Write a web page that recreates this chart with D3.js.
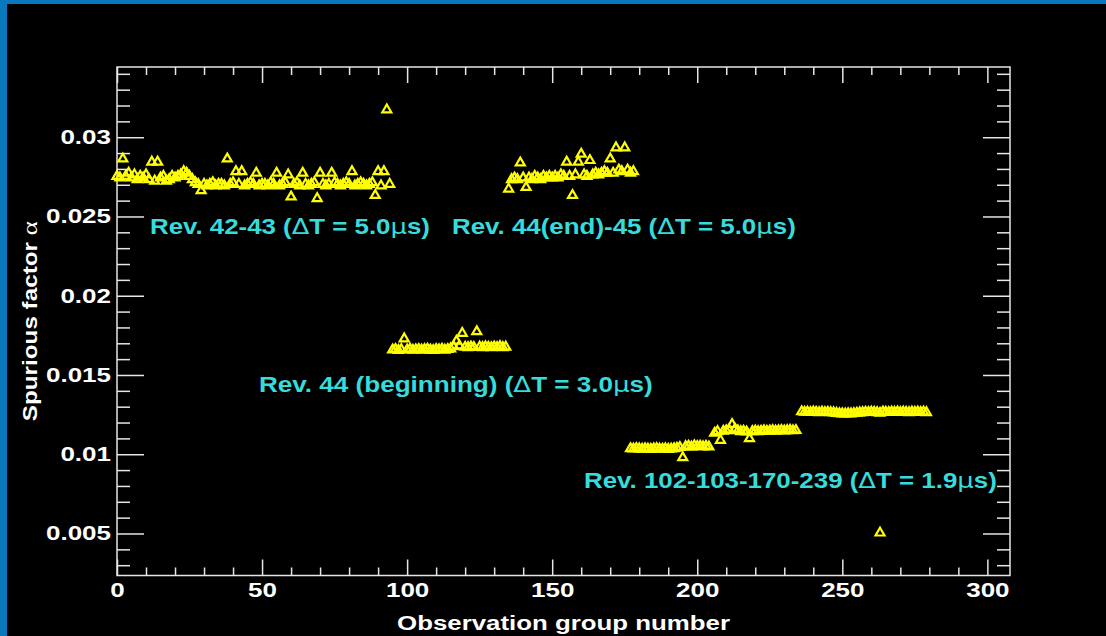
<!DOCTYPE html>
<html>
<head>
<meta charset="utf-8">
<script src="https://cdn.jsdelivr.net/npm/d3@7"></script>
<style>
  html, body { margin: 0; padding: 0; background: #000; }
  svg { display: block; }
  text { font-family: "Liberation Sans", Arial, Helvetica, sans-serif; font-weight: bold; }
</style>
</head>
<body>
<svg id="chart" width="1106" height="636"></svg>
<script>
// observation group where each run of points starts, one alpha per consecutive group
var segmentStart = [0, 95, 135, 177, 206, 236];

var rev4243 = [
  0.0276, 0.0275, 0.0287, 0.0276, 0.0278, 0.0275, 0.0277, 0.0274, 0.0276, 0.0275,
  0.0277, 0.0274, 0.0285, 0.0273, 0.0285, 0.0275, 0.0276, 0.0273, 0.0274, 0.0276,
  0.0275, 0.0276, 0.0277, 0.0279, 0.0278, 0.0276, 0.0274, 0.0272, 0.0271, 0.0267,
  0.0271, 0.0270, 0.0271, 0.0272, 0.0270, 0.0271, 0.0271, 0.0270, 0.0287, 0.0271,
  0.0272, 0.0279, 0.0271, 0.0279, 0.0270, 0.0271, 0.0272, 0.0271, 0.0278, 0.0270,
  0.0271, 0.0271, 0.0270, 0.0272, 0.0271, 0.0278, 0.0270, 0.0271, 0.0272, 0.0277,
  0.0263, 0.0271, 0.0272, 0.0270, 0.0278, 0.0271, 0.0270, 0.0271, 0.0272, 0.0262,
  0.0278, 0.0271, 0.0270, 0.0271, 0.0278, 0.0272, 0.0271, 0.0270, 0.0271, 0.0272,
  0.0271, 0.0279, 0.0270, 0.0271, 0.0272, 0.0271, 0.0270, 0.0271, 0.0272, 0.0264,
  0.0279, 0.0270, 0.0279, 0.0318, 0.0271
];

var rev44begin = [
  0.01665, 0.01668, 0.01662, 0.01667, 0.01735, 0.01665, 0.01670, 0.01663, 0.01666, 0.01668,
  0.01664, 0.01667, 0.01670, 0.01665, 0.01662, 0.01668, 0.01666, 0.01670, 0.01664, 0.01668,
  0.01672, 0.01685, 0.01720, 0.01690, 0.01770, 0.01682, 0.01680, 0.01684, 0.01681, 0.01780,
  0.01683, 0.01680, 0.01685, 0.01682, 0.01679, 0.01684, 0.01681, 0.01686, 0.01680, 0.01683
];

var rev44end45 = [
  0.0268, 0.0274, 0.0275, 0.0274, 0.02845, 0.0275, 0.0269, 0.0275, 0.0274, 0.0276,
  0.0275, 0.0274, 0.0276, 0.0275, 0.0276, 0.0275, 0.0276, 0.0275, 0.0277, 0.0276,
  0.0285, 0.0276, 0.0264, 0.0277, 0.0285, 0.0290, 0.0277, 0.0276, 0.0286, 0.0277,
  0.0278, 0.0277, 0.0278, 0.0279, 0.0278, 0.0287, 0.0278, 0.0294, 0.0280, 0.0279,
  0.0294, 0.0280, 0.0278, 0.0279
];

var rev102low = [
  0.01042, 0.01040, 0.01043, 0.01041, 0.01039, 0.01042, 0.01040, 0.01038, 0.01041, 0.01043,
  0.01040, 0.01039, 0.01041, 0.01038, 0.01040, 0.01042, 0.01045, 0.01050, 0.00985, 0.01055,
  0.01058, 0.01052, 0.01060, 0.01056, 0.01058, 0.01054, 0.01057, 0.01053
];

var rev102mid = [
  0.01140, 0.01150, 0.01095, 0.01152, 0.01155, 0.01160, 0.01195, 0.01165, 0.01155, 0.01150,
  0.01152, 0.01148, 0.01105, 0.01150, 0.01153, 0.01150, 0.01152, 0.01155, 0.01152, 0.01154,
  0.01156, 0.01153, 0.01155, 0.01157, 0.01154, 0.01156, 0.01158, 0.01155, 0.01157
];

var rev102high = [
  0.01275, 0.01272, 0.01273, 0.01271, 0.01274, 0.01272, 0.01270, 0.01273, 0.01271, 0.01272,
  0.01270, 0.01268, 0.01265, 0.01263, 0.01262, 0.01261, 0.01263, 0.01262, 0.01264, 0.01266,
  0.01268, 0.01270, 0.01272, 0.01271, 0.01273, 0.01272, 0.01270, 0.01266, 0.01274, 0.01272,
  0.01271, 0.01273, 0.01272, 0.01274, 0.01271, 0.01273, 0.01272, 0.01270, 0.01273, 0.01272,
  0.01274, 0.01271, 0.01273, 0.01270
];

var segmentAlpha = [rev4243, rev44begin, rev44end45, rev102low, rev102mid, rev102high];

var outlierGroup = [263];
var outlierAlpha = [0.0051];

var xMajor = [0, 50, 100, 150, 200, 250, 300];
var xMinor = [10, 20, 30, 40, 60, 70, 80, 90, 110, 120, 130, 140, 160, 170, 180, 190,
              210, 220, 230, 240, 260, 270, 280, 290];
var yMajor = [0.005, 0.01, 0.015, 0.02, 0.025, 0.03];
var yTickLabels = ["0.005", "0.01", "0.015", "0.02", "0.025", "0.03"];
var yMinor = [0.003, 0.004, 0.006, 0.007, 0.008, 0.009, 0.011, 0.012, 0.013, 0.014,
              0.016, 0.017, 0.018, 0.019, 0.021, 0.022, 0.023, 0.024, 0.026, 0.027,
              0.028, 0.029, 0.031, 0.032, 0.033, 0.034];

var notes = [
  "Rev. 42-43 (\u0394T = 5.0\u03bcs)",
  "Rev. 44(end)-45 (\u0394T = 5.0\u03bcs)",
  "Rev. 44 (beginning) (\u0394T = 3.0\u03bcs)",
  "Rev. 102-103-170-239 (\u0394T = 1.9\u03bcs)"
];

var xTitle = "Observation group number";
var yTitle = "Spurious factor ";

// ---- layout
var plot = { left: 117, right: 1010, top: 67, bottom: 575.5 };
var axisColor = "#e6e6e6";
var stretch = 1.3;

var svg = d3.select("#chart");

svg.append("rect").attr("width", 1106).attr("height", 636).attr("fill", "#000");
svg.append("rect").attr("width", 1106).attr("height", 4).attr("fill", "#0979bd");
svg.append("rect").attr("width", 7).attr("height", 636).attr("fill", "#0979bd");

var x = d3.scaleLinear().domain([0, 307.8]).range([plot.left, plot.right]);
var y = d3.scaleLinear().domain([0.00235, 0.03443]).range([plot.bottom, plot.top]);

function styleAxis(g) {
  g.select(".domain").remove();
  g.selectAll(".tick line").attr("stroke", axisColor).attr("stroke-width", 1.5);
  g.attr("font-size", 20).attr("font-family", null);
}

// bottom axis
svg.append("g")
  .attr("transform", "translate(0," + plot.bottom + ")")
  .call(d3.axisBottom(x).tickValues(xMajor).tickSize(-16).tickPadding(7).tickFormat(d3.format("d")))
  .call(styleAxis)
  .selectAll(".tick text")
  .attr("fill", "#fff")
  .attr("transform", "scale(" + stretch + ",1)");
svg.append("g")
  .attr("transform", "translate(0," + plot.bottom + ")")
  .call(d3.axisBottom(x).tickValues(xMinor).tickSize(-8).tickFormat(""))
  .call(styleAxis);

// top axis
svg.append("g")
  .attr("transform", "translate(0," + plot.top + ")")
  .call(d3.axisTop(x).tickValues(xMajor).tickSize(-16).tickFormat(""))
  .call(styleAxis);
svg.append("g")
  .attr("transform", "translate(0," + plot.top + ")")
  .call(d3.axisTop(x).tickValues(xMinor).tickSize(-8).tickFormat(""))
  .call(styleAxis);

// left axis
svg.append("g")
  .attr("transform", "translate(" + plot.left + ",0)")
  .call(d3.axisLeft(y).tickValues(yMajor).tickSize(-27).tickPadding(6)
    .tickFormat(function(d, i) { return yTickLabels[i]; }))
  .call(styleAxis)
  .selectAll(".tick text")
  .attr("fill", "#fff")
  .attr("x", -6 / stretch)
  .attr("transform", "scale(" + stretch + ",1)");
svg.append("g")
  .attr("transform", "translate(" + plot.left + ",0)")
  .call(d3.axisLeft(y).tickValues(yMinor).tickSize(-13).tickFormat(""))
  .call(styleAxis);

// right axis
svg.append("g")
  .attr("transform", "translate(" + plot.right + ",0)")
  .call(d3.axisRight(y).tickValues(yMajor).tickSize(-27).tickFormat(""))
  .call(styleAxis);
svg.append("g")
  .attr("transform", "translate(" + plot.right + ",0)")
  .call(d3.axisRight(y).tickValues(yMinor).tickSize(-13).tickFormat(""))
  .call(styleAxis);

svg.append("rect")
  .attr("x", plot.left).attr("y", plot.top)
  .attr("width", plot.right - plot.left).attr("height", plot.bottom - plot.top)
  .attr("fill", "none").attr("stroke", axisColor).attr("stroke-width", 1.5);

// points
var points = [];
segmentAlpha.forEach(function(list, s) {
  list.forEach(function(a, i) {
    points.push({ g: segmentStart[s] + i, a: a });
  });
});
outlierGroup.forEach(function(g, i) {
  points.push({ g: g, a: outlierAlpha[i] });
});

svg.append("g").selectAll("path")
  .data(points)
  .enter()
  .append("path")
  .attr("d", "M0,-4.2L4.5,3.6L-4.5,3.6Z")
  .attr("transform", function(d) { return "translate(" + x(d.g) + "," + y(d.a) + ")"; })
  .attr("fill", "none")
  .attr("stroke", "#ffff00")
  .attr("stroke-width", 2.2)
  .attr("stroke-linejoin", "miter");

// writes text with greek letters in a lighter face
function fitText(parent, str) {
  var t = parent.append("text");
  str.split(/([\u0394\u03bc\u03b1])/).forEach(function(part) {
    if (!part) return;
    var sp = t.append("tspan").text(part);
    if (/[\u0394\u03bc\u03b1]/.test(part)) {
      sp.attr("font-weight", "normal").attr("font-family", "DejaVu Sans");
    }
  });
  return t;
}

// start x, baseline, width
var notePos = [[150, 234, 280], [452, 234, 344], [259, 392, 394], [584, 488, 413]];
notes.forEach(function(str, i) {
  var g = svg.append("g");
  var t = fitText(g, str).attr("font-size", 22).attr("fill", "#36dcdc");
  var len = t.node().getComputedTextLength();
  g.attr("transform", "translate(" + notePos[i][0] + "," + notePos[i][1] + ") scale(" +
    (notePos[i][2] / len) + ",1)");
});

// axis titles
var xt = svg.append("g");
var xn = fitText(xt, xTitle).attr("font-size", 20).attr("fill", "#fff").attr("text-anchor", "middle");
var xl = xn.node().getComputedTextLength();
xt.attr("transform", "translate(" + ((plot.left + plot.right) / 2) + ",630) scale(" + (333 / xl) + ",1)");

var yt = svg.append("g");
var yn = fitText(yt, yTitle + "\u03b1").attr("font-size", 20).attr("fill", "#fff").attr("text-anchor", "middle");
yn.select("tspan:last-child").attr("font-family", "Liberation Serif").attr("font-size", 22);
var yl = yn.node().getComputedTextLength();
yt.attr("transform", "translate(37," + ((plot.top + plot.bottom) / 2) + ") rotate(-90) scale(" + (200 / yl) + ",1)");
</script>
</body>
</html>
